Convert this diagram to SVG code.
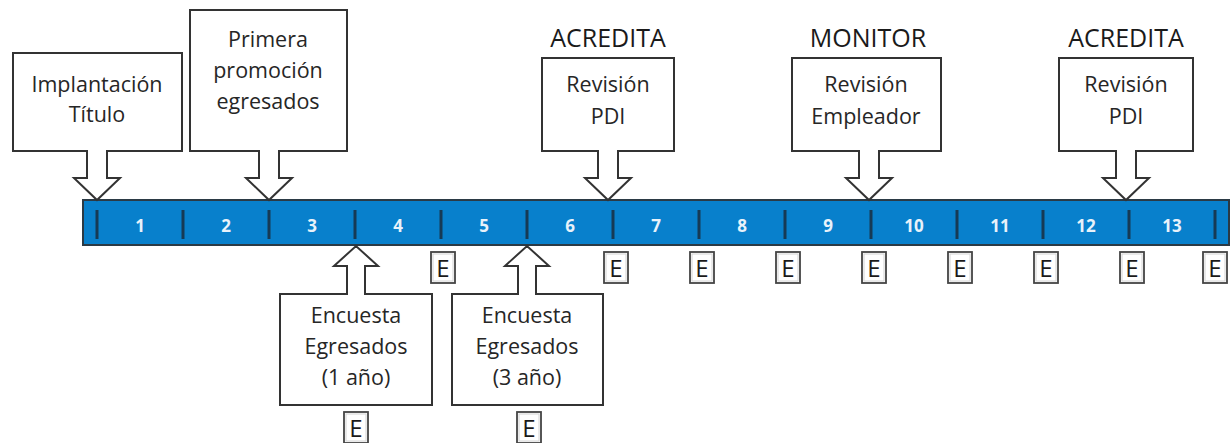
<svg xmlns="http://www.w3.org/2000/svg" width="1230" height="443" viewBox="0 0 1230 443">
<style>
.co{fill:#fff;stroke:#333;stroke-width:2;stroke-linejoin:miter}
.t{font-family:"Open Sans","Liberation Sans",sans-serif;font-size:21.5px;fill:#262626;text-anchor:middle}
.h{font-family:"Open Sans","Liberation Sans",sans-serif;font-size:25px;fill:#1a1a1a;text-anchor:middle}
.n{font-family:"Open Sans","Liberation Sans",sans-serif;font-size:17px;font-weight:bold;fill:#e8f2fa;text-anchor:middle}
.tk{stroke:#163a55;stroke-width:3}
.eb{fill:#fff;stroke:#444;stroke-width:1.8}
.ebi{fill:none;stroke:#d4d4d4;stroke-width:1}
.e{font-family:"Open Sans","Liberation Sans",sans-serif;font-size:24px;fill:#1a1a1a;text-anchor:middle}
</style>
<defs>
<g id="ebox">
<rect class="eb" x="-12" y="0" width="24" height="31"/>
<rect class="ebi" x="-10" y="2" width="20" height="27"/>
<text class="e" x="0" y="25">E</text>
</g>
</defs>

<g id="timeline">
<rect x="83" y="200" width="1146" height="45" fill="#0880cc" stroke="#2b3a45" stroke-width="2"/>
<g id="ticks">
<line class="tk" x1="97" y1="210" x2="97" y2="239"/>
<line class="tk" x1="183" y1="210" x2="183" y2="239"/>
<line class="tk" x1="269" y1="210" x2="269" y2="239"/>
<line class="tk" x1="355" y1="210" x2="355" y2="239"/>
<line class="tk" x1="441" y1="210" x2="441" y2="239"/>
<line class="tk" x1="527" y1="210" x2="527" y2="239"/>
<line class="tk" x1="613" y1="210" x2="613" y2="239"/>
<line class="tk" x1="699" y1="210" x2="699" y2="239"/>
<line class="tk" x1="785" y1="210" x2="785" y2="239"/>
<line class="tk" x1="871" y1="210" x2="871" y2="239"/>
<line class="tk" x1="957" y1="210" x2="957" y2="239"/>
<line class="tk" x1="1043" y1="210" x2="1043" y2="239"/>
<line class="tk" x1="1129" y1="210" x2="1129" y2="239"/>
<line class="tk" x1="1215" y1="210" x2="1215" y2="239"/>
</g>
<g id="years">
<text class="n" x="140" y="232">1</text>
<text class="n" x="226" y="232">2</text>
<text class="n" x="312" y="232">3</text>
<text class="n" x="398" y="232">4</text>
<text class="n" x="484" y="232">5</text>
<text class="n" x="570" y="232">6</text>
<text class="n" x="656" y="232">7</text>
<text class="n" x="742" y="232">8</text>
<text class="n" x="828" y="232">9</text>
<text class="n" x="914" y="232">10</text>
<text class="n" x="1000" y="232">11</text>
<text class="n" x="1086" y="232">12</text>
<text class="n" x="1172" y="232">13</text>
</g>
</g>

<g id="e-marks">
<use href="#ebox" x="443" y="252"/>
<use href="#ebox" x="616" y="252"/>
<use href="#ebox" x="702" y="252"/>
<use href="#ebox" x="788" y="252"/>
<use href="#ebox" x="874" y="252"/>
<use href="#ebox" x="960" y="252"/>
<use href="#ebox" x="1046" y="252"/>
<use href="#ebox" x="1132" y="252"/>
<use href="#ebox" x="1215" y="252"/>
<use href="#ebox" x="356" y="412"/>
<use href="#ebox" x="529" y="412"/>
</g>

<g id="implantacion">
<path class="co" d="M13 53 H182 V151 H107 V178 H120 L97 200 L74 178 H87 V151 H13 Z"/>
<text class="t" x="97" y="92">Implantación</text>
<text class="t" x="97" y="122">Título</text>
</g>

<g id="primera">
<path class="co" d="M190 10 H347 V151 H279 V178 H292 L269 200 L246 178 H259 V151 H190 Z"/>
<text class="t" x="268" y="47">Primera</text>
<text class="t" x="268" y="78">promoción</text>
<text class="t" x="268" y="109">egresados</text>
</g>

<g id="acredita1">
<text class="h" x="608" y="47">ACREDITA</text>
<path class="co" d="M542 58 H674 V151 H618 V178 H631 L608 200 L585 178 H598 V151 H542 Z"/>
<text class="t" x="608" y="92">Revisión</text>
<text class="t" x="608" y="124">PDI</text>
</g>

<g id="monitor">
<text class="h" x="868" y="47">MONITOR</text>
<path class="co" d="M792 58 H941 V151 H879 V178 H892 L869 200 L846 178 H859 V151 H792 Z"/>
<text class="t" x="866" y="92">Revisión</text>
<text class="t" x="866" y="124">Empleador</text>
</g>

<g id="acredita2">
<text class="h" x="1126" y="47">ACREDITA</text>
<path class="co" d="M1059 58 H1193 V151 H1136 V178 H1149 L1126 200 L1103 178 H1116 V151 H1059 Z"/>
<text class="t" x="1126" y="92">Revisión</text>
<text class="t" x="1126" y="124">PDI</text>
</g>

<g id="encuesta1">
<path class="co" d="M280 405 H432 V294 H365 V266 H378 L356 246 L334 266 H347 V294 H280 Z"/>
<text class="t" x="356" y="323">Encuesta</text>
<text class="t" x="356" y="354">Egresados</text>
<text class="t" x="356" y="385">(1 año)</text>
</g>

<g id="encuesta3">
<path class="co" d="M452 405 H603 V294 H536 V266 H549 L527 246 L505 266 H518 V294 H452 Z"/>
<text class="t" x="527" y="323">Encuesta</text>
<text class="t" x="527" y="354">Egresados</text>
<text class="t" x="527" y="385">(3 año)</text>
</g>

<g id="connectors"></g>
</svg>
